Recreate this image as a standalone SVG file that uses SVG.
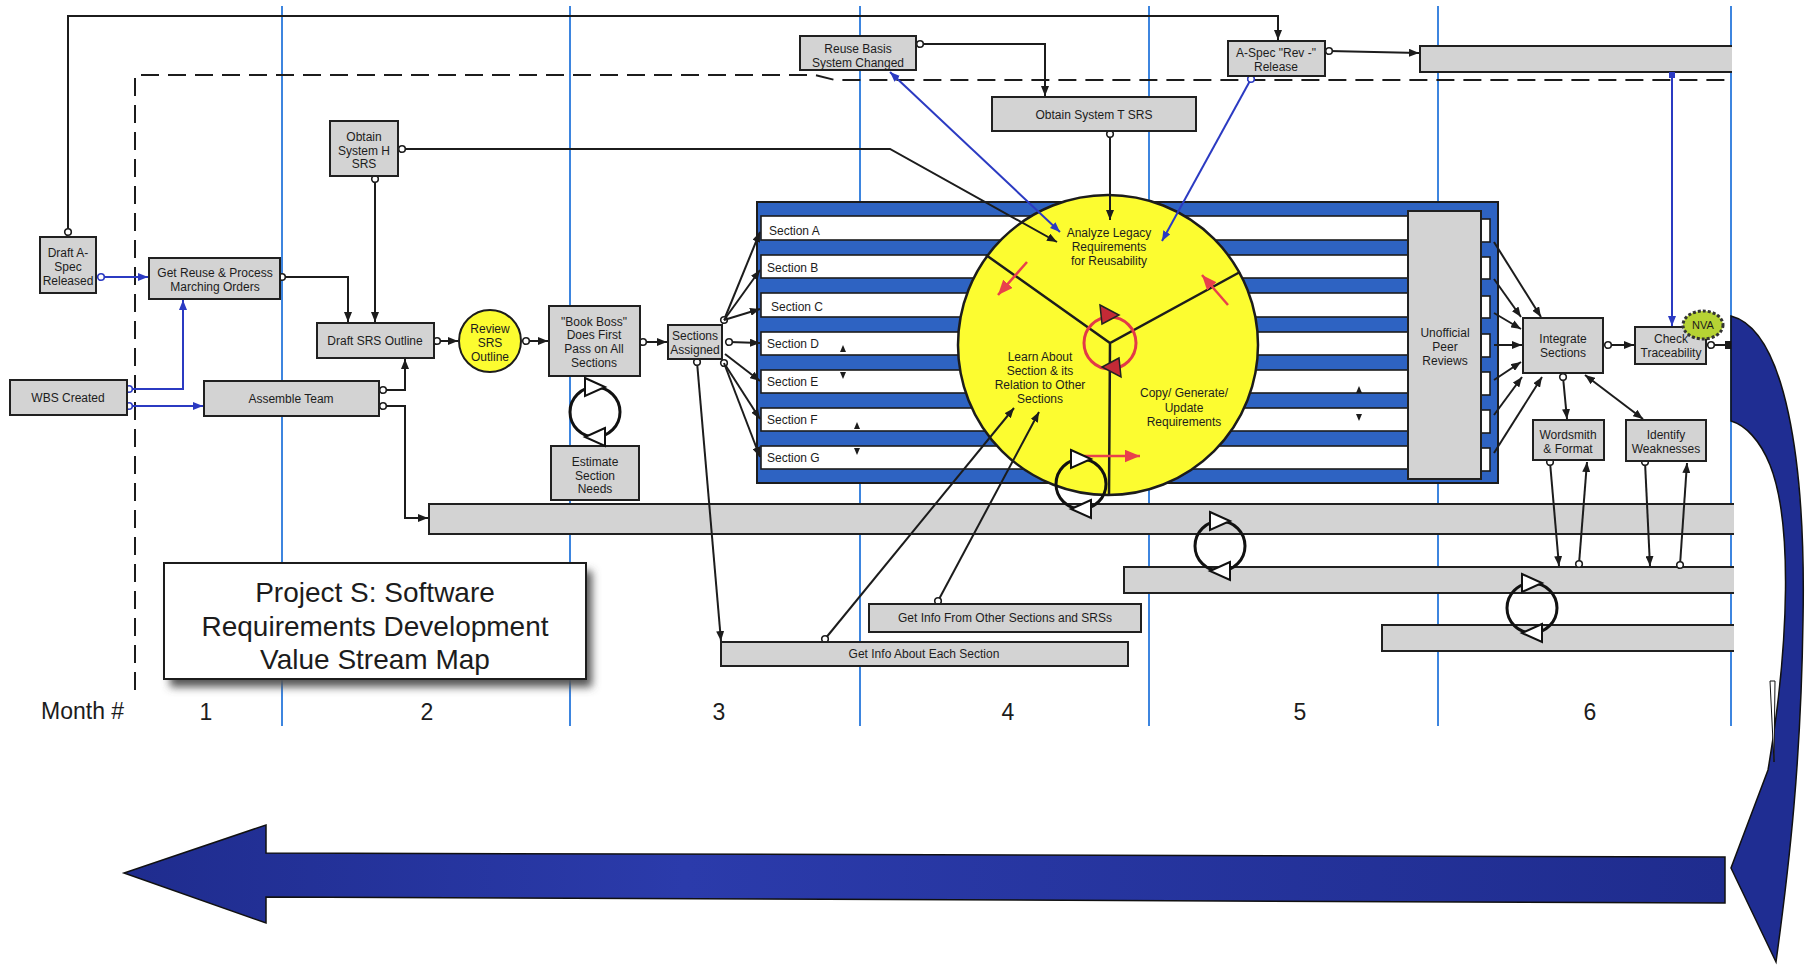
<svg xmlns="http://www.w3.org/2000/svg" width="1813" height="967" viewBox="0 0 1813 967">
<defs>
<style>
.mo{stroke:#3d85df;stroke-width:2;fill:none}
.bx{fill:#d3d3d3;stroke:#202020;stroke-width:2}
.t{font-family:"Liberation Sans",Arial,Helvetica,sans-serif;font-size:12px;fill:#1c1c1c;text-anchor:middle}
.sl{font-family:"Liberation Sans",Arial,Helvetica,sans-serif;font-size:12px;fill:#1c1c1c}
.big{font-family:"Liberation Sans",Arial,Helvetica,sans-serif;font-size:23px;fill:#1c1c1c;text-anchor:middle}
.ttl{font-family:"Liberation Sans",Arial,Helvetica,sans-serif;font-size:28px;fill:#1c1c1c;text-anchor:middle}
.ln{fill:none;stroke:#1c1c1c;stroke-width:2}
.bl{fill:none;stroke:#2b3ac2;stroke-width:2}
.rd{fill:none;stroke:#e8404c;stroke-width:2.5}
.wb{fill:#fff;stroke:#1c1c1c;stroke-width:1.6}
.wt{fill:#fff;stroke:#111;stroke-width:2}
.rt{fill:#c42a36;stroke:#222;stroke-width:1.5}
.tri{fill:#1c1c1c}
.bar{fill:#d3d3d3}
.edge{fill:none;stroke:#202020;stroke-width:2}
</style>
<marker id="ah" viewBox="0 0 10 8" refX="10" refY="4" markerWidth="10" markerHeight="8" markerUnits="userSpaceOnUse" orient="auto-start-reverse"><path d="M0,0L10,4L0,8z" fill="#1c1c1c"/></marker>
<marker id="ahb" viewBox="0 0 10 8" refX="10" refY="4" markerWidth="10" markerHeight="8" markerUnits="userSpaceOnUse" orient="auto-start-reverse"><path d="M0,0L10,4L0,8z" fill="#2b3ac2"/></marker>
<marker id="ahr" viewBox="0 0 12 10" refX="12" refY="5" markerWidth="15" markerHeight="13" markerUnits="userSpaceOnUse" orient="auto"><path d="M0,0L12,5L0,10z" fill="#e8404c"/></marker>
<marker id="oc" viewBox="0 0 10 10" refX="5" refY="5" markerWidth="10" markerHeight="10" markerUnits="userSpaceOnUse"><circle cx="5" cy="5" r="3.3" fill="#fff" stroke="#1c1c1c" stroke-width="1.6"/></marker>
<marker id="ocb" viewBox="0 0 10 10" refX="5" refY="5" markerWidth="10" markerHeight="10" markerUnits="userSpaceOnUse"><circle cx="5" cy="5" r="3.3" fill="#fff" stroke="#2b3ac2" stroke-width="1.6"/></marker>
<linearGradient id="navy" x1="0" y1="0" x2="1" y2="0">
<stop offset="0" stop-color="#1f2c8e"/><stop offset="0.35" stop-color="#2b3bab"/><stop offset="1" stop-color="#1f2c8e"/>
</linearGradient>
<filter id="shadow" x="-10%" y="-10%" width="130%" height="140%"><feGaussianBlur stdDeviation="4"/></filter>
<!-- rework loop: circle with two open arrowheads, clockwise -->
<g id="cyc"><circle r="25" fill="none" stroke="#111" stroke-width="3"/><path class="wt" d="M-10,-34L10,-25L-10,-16Z"/><path class="wt" d="M10,16L-10,25L10,34Z"/></g>
</defs>

<rect width="1813" height="967" fill="#fff"/>

<!-- month separators -->
<g id="months">
<path class="mo" d="M282,6V726M570,6V726M860,6V726M1149,6V726M1438,6V726M1731,6V726"/>
<text x="41" y="719" class="big" style="text-anchor:start">Month #</text>
<text x="206" y="720" class="big">1</text>
<text x="427" y="720" class="big">2</text>
<text x="719" y="720" class="big">3</text>
<text x="1008" y="720" class="big">4</text>
<text x="1300" y="720" class="big">5</text>
<text x="1590" y="720" class="big">6</text>
</g>

<!-- project boundary -->
<path d="M135,690V75H815L835,80H1733" fill="none" stroke="#1c1c1c" stroke-width="2" stroke-dasharray="18 9"/>

<!-- long timeline bars (open to the right) -->
<g id="bars">
<rect class="bar" x="1420" y="46" width="312" height="26"/><path class="edge" d="M1732,46H1420V72H1732"/>
<rect class="bar" x="429" y="504" width="1305" height="30"/><path class="edge" d="M1734,504H429V534H1734"/>
<rect class="bar" x="1124" y="567" width="610" height="26"/><path class="edge" d="M1734,567H1124V593H1734"/>
<rect class="bar" x="1382" y="625" width="352" height="26"/><path class="edge" d="M1734,625H1382V651H1734"/>
</g>

<!-- section work frame -->
<g id="n-sections">
<rect x="757" y="202" width="741" height="281" fill="#2e63c2" stroke="#1c1c1c" stroke-width="2"/>
<rect class="wb" x="761" y="216" width="650" height="24"/>
<rect class="wb" x="761" y="255" width="650" height="23"/>
<rect class="wb" x="761" y="293" width="650" height="24"/>
<rect class="wb" x="761" y="332" width="650" height="23"/>
<rect class="wb" x="761" y="370" width="650" height="23"/>
<rect class="wb" x="761" y="408" width="650" height="23"/>
<rect class="wb" x="761" y="446" width="650" height="23"/>
<rect class="wb" x="1481" y="219" width="9" height="23"/>
<rect class="wb" x="1481" y="257" width="9" height="22"/>
<rect class="wb" x="1481" y="296" width="9" height="22"/>
<rect class="wb" x="1481" y="334" width="9" height="23"/>
<rect class="wb" x="1481" y="372" width="9" height="23"/>
<rect class="wb" x="1481" y="410" width="9" height="23"/>
<rect class="wb" x="1481" y="448" width="9" height="23"/>
<text class="sl" x="769" y="235">Section A</text>
<text class="sl" x="767" y="272">Section B</text>
<text class="sl" x="771" y="311">Section C</text>
<text class="sl" x="767" y="348">Section D</text>
<text class="sl" x="767" y="386">Section E</text>
<text class="sl" x="767" y="424">Section F</text>
<text class="sl" x="767" y="462">Section G</text>
<path class="tri" d="M840,352L843,345L846,352Z"/>
<path class="tri" d="M840,372L846,372L843,379Z"/>
<path class="tri" d="M854,429L857,422L860,429Z"/>
<path class="tri" d="M854,448L860,448L857,455Z"/>
<path class="tri" d="M1356,393L1359,386L1362,393Z"/>
<path class="tri" d="M1356,414L1362,414L1359,421Z"/>
</g>

<g id="n-peer">
<rect class="bx" x="1408" y="211" width="73" height="268"/>
<text class="t" x="1445" y="337">Unofficial</text>
<text class="t" x="1445" y="351">Peer</text>
<text class="t" x="1445" y="365">Reviews</text>
</g>

<!-- requirements cycle -->
<g id="n-cycle">
<circle cx="1108" cy="345" r="150" fill="#fcfc30" stroke="#1c1c1c" stroke-width="2.5"/>
<path d="M986,255L1110,343L1240,272M1110,343L1109,495" fill="none" stroke="#1c1c1c" stroke-width="2.5"/>
<g transform="translate(1110,343)"><circle r="26" fill="none" stroke="#e23a48" stroke-width="3"/><path class="rt" d="M-10,-38L9,-28L-8,-19Z"/><path class="rt" d="M9,15L-8,24L11,34Z"/></g>
<path class="rd" d="M1027,262L998,295" marker-end="url(#ahr)"/>
<path class="rd" d="M1228,305L1202,275" marker-end="url(#ahr)"/>
<path class="rd" d="M1084,456L1140,456" marker-end="url(#ahr)"/>
<text class="t" x="1109" y="237">Analyze Legacy</text>
<text class="t" x="1109" y="251">Requirements</text>
<text class="t" x="1109" y="265">for Reusability</text>
<text class="t" x="1040" y="361">Learn About</text>
<text class="t" x="1040" y="375">Section &amp; its</text>
<text class="t" x="1040" y="389">Relation to Other</text>
<text class="t" x="1040" y="403">Sections</text>
<text class="t" x="1184" y="397">Copy/ Generate/</text>
<text class="t" x="1184" y="412">Update</text>
<text class="t" x="1184" y="426">Requirements</text>
</g>

<!-- connectors -->
<g id="connectors">
<path class="ln" d="M68,232V16H1278V40" marker-start="url(#oc)" marker-end="url(#ah)"/>
<path class="bl" d="M101,277H148" marker-start="url(#ocb)" marker-end="url(#ahb)"/>
<path class="bl" d="M129,389H183V300" marker-start="url(#ocb)" marker-end="url(#ahb)"/>
<path class="bl" d="M129,406H203" marker-start="url(#ocb)" marker-end="url(#ahb)"/>
<path class="ln" d="M282,277H348V322" marker-start="url(#oc)" marker-end="url(#ah)"/>
<path class="ln" d="M375,179V322" marker-start="url(#oc)" marker-end="url(#ah)"/>
<path class="ln" d="M402,149H890L1057,242" marker-start="url(#oc)" marker-end="url(#ah)"/>
<path class="ln" d="M383,390H405V359" marker-start="url(#oc)" marker-end="url(#ah)"/>
<path class="ln" d="M383,406H405V518H428" marker-start="url(#oc)" marker-end="url(#ah)"/>
<path class="ln" d="M437,341H458" marker-start="url(#oc)" marker-end="url(#ah)"/>
<path class="ln" d="M526,341H548" marker-start="url(#oc)" marker-end="url(#ah)"/>
<path class="ln" d="M643,342H667" marker-start="url(#oc)" marker-end="url(#ah)"/>
<path class="ln" d="M724,320L760,232" marker-start="url(#oc)" marker-end="url(#ah)"/>
<path class="ln" d="M724,320L760,270" marker-end="url(#ah)"/>
<path class="ln" d="M724,320L760,309" marker-end="url(#ah)"/>
<path class="ln" d="M729,342L760,343" marker-start="url(#oc)" marker-end="url(#ah)"/>
<path class="ln" d="M725,354L760,381" marker-end="url(#ah)"/>
<path class="ln" d="M724,363L760,419" marker-start="url(#oc)" marker-end="url(#ah)"/>
<path class="ln" d="M724,363L760,457" marker-end="url(#ah)"/>
<path class="ln" d="M697,362L721,641" marker-start="url(#oc)" marker-end="url(#ah)"/>
<path class="ln" d="M825,639L1014,408" marker-start="url(#oc)" marker-end="url(#ah)"/>
<path class="ln" d="M938,601L1039,412" marker-start="url(#oc)" marker-end="url(#ah)"/>
<path class="ln" d="M920,44H1045V96" marker-start="url(#oc)" marker-end="url(#ah)"/>
<path class="bl" d="M890,72L1060,232" marker-start="url(#ahb)" marker-end="url(#ahb)"/>
<path class="ln" d="M1110,134V220" marker-start="url(#oc)" marker-end="url(#ah)"/>
<path class="bl" d="M1251,79L1162,241" marker-start="url(#ocb)" marker-end="url(#ahb)"/>
<path class="ln" d="M1329,51L1419,53" marker-start="url(#oc)" marker-end="url(#ah)"/>
<path class="bl" d="M1672,74V326" marker-end="url(#ahb)"/>
<rect x="1669" y="72" width="6" height="6" fill="#2b3ac2"/>
<path class="ln" d="M1494,242L1541,317" marker-end="url(#ah)"/>
<path class="ln" d="M1494,279L1521,317" marker-end="url(#ah)"/>
<path class="ln" d="M1494,313L1521,329" marker-end="url(#ah)"/>
<path class="ln" d="M1494,345L1522,345" marker-end="url(#ah)"/>
<path class="ln" d="M1494,380L1521,362" marker-end="url(#ah)"/>
<path class="ln" d="M1494,415L1522,377" marker-end="url(#ah)"/>
<path class="ln" d="M1494,453L1542,377" marker-end="url(#ah)"/>
<path class="ln" d="M1608,345H1634" marker-start="url(#oc)" marker-end="url(#ah)"/>
<path class="ln" d="M1711,345H1727" marker-start="url(#oc)"/>
<rect x="1725" y="341" width="7" height="8" fill="#1c1c1c"/>
<path class="ln" d="M1563,377L1567,419" marker-start="url(#oc)" marker-end="url(#ah)"/>
<path class="ln" d="M1585,375L1643,419" marker-start="url(#ah)" marker-end="url(#ah)"/>
<path class="ln" d="M1550,462L1559,566" marker-start="url(#oc)" marker-end="url(#ah)"/>
<path class="ln" d="M1579,564L1587,462" marker-start="url(#oc)" marker-end="url(#ah)"/>
<path class="ln" d="M1645,462L1650,566" marker-start="url(#oc)" marker-end="url(#ah)"/>
<path class="ln" d="M1680,565L1687,463" marker-start="url(#oc)" marker-end="url(#ah)"/>
</g>

<!-- process boxes -->
<g id="n-draft-aspec"><rect class="bx" x="40" y="237" width="56" height="56"/>
<text class="t" x="68" y="257">Draft A-</text><text class="t" x="68" y="271">Spec</text><text class="t" x="68" y="285">Released</text></g>
<g id="n-get-reuse"><rect class="bx" x="149" y="258" width="131" height="41"/>
<text class="t" x="215" y="277">Get Reuse &amp; Process</text><text class="t" x="215" y="291">Marching Orders</text></g>
<g id="n-wbs"><rect class="bx" x="10" y="380" width="117" height="35"/>
<text class="t" x="68" y="402">WBS Created</text></g>
<g id="n-assemble"><rect class="bx" x="204" y="381" width="175" height="35"/>
<text class="t" x="291" y="403">Assemble Team</text></g>
<g id="n-obtain-h"><rect class="bx" x="330" y="121" width="68" height="55"/>
<text class="t" x="364" y="141">Obtain</text><text class="t" x="364" y="155">System H</text><text class="t" x="364" y="168">SRS</text></g>
<g id="n-draft-srs"><rect class="bx" x="317" y="323" width="117" height="35"/>
<text class="t" x="375" y="345">Draft SRS Outline</text></g>
<g id="n-review"><circle cx="490" cy="341" r="31" fill="#fcfc30" stroke="#1c1c1c" stroke-width="2"/>
<text class="t" x="490" y="333">Review</text><text class="t" x="490" y="347">SRS</text><text class="t" x="490" y="361">Outline</text></g>
<g id="n-book-boss"><rect class="bx" x="549" y="306" width="91" height="70"/>
<text class="t" x="594" y="326">"Book Boss"</text><text class="t" x="594" y="339">Does First</text><text class="t" x="594" y="353">Pass on All</text><text class="t" x="594" y="367">Sections</text></g>
<g id="n-estimate"><rect class="bx" x="551" y="446" width="88" height="54"/>
<text class="t" x="595" y="466">Estimate</text><text class="t" x="595" y="480">Section</text><text class="t" x="595" y="493">Needs</text></g>
<g id="n-assigned"><rect class="bx" x="668" y="325" width="54" height="34"/>
<text class="t" x="695" y="340">Sections</text><text class="t" x="695" y="354">Assigned</text></g>
<g id="n-reuse-basis"><rect class="bx" x="800" y="36" width="116" height="34"/>
<text class="t" x="858" y="53">Reuse Basis</text><text class="t" x="858" y="67">System Changed</text></g>
<g id="n-obtain-t"><rect class="bx" x="992" y="97" width="204" height="34"/>
<text class="t" x="1094" y="119">Obtain System T SRS</text></g>
<g id="n-aspec-rev"><rect class="bx" x="1228" y="41" width="97" height="35"/>
<text class="t" x="1276" y="57">A-Spec "Rev -"</text><text class="t" x="1276" y="71">Release</text></g>
<g id="n-integrate"><rect class="bx" x="1523" y="318" width="80" height="55"/>
<text class="t" x="1563" y="343">Integrate</text><text class="t" x="1563" y="357">Sections</text></g>
<g id="n-check"><rect class="bx" x="1635" y="327" width="71" height="37"/>
<text class="t" x="1671" y="343">Check</text><text class="t" x="1671" y="357">Traceability</text>
<ellipse cx="1703" cy="325" rx="20" ry="14" fill="#b6d334" stroke="#333" stroke-width="3" stroke-dasharray="3 2"/>
<text class="t" x="1703" y="329" style="font-size:11px">NVA</text></g>
<g id="n-wordsmith"><rect class="bx" x="1533" y="420" width="71" height="40"/>
<text class="t" x="1568" y="439">Wordsmith</text><text class="t" x="1568" y="453">&amp; Format</text></g>
<g id="n-identify"><rect class="bx" x="1626" y="420" width="80" height="41"/>
<text class="t" x="1666" y="439">Identify</text><text class="t" x="1666" y="453">Weaknesses</text></g>
<g id="n-info-other"><rect class="bx" x="869" y="604" width="272" height="28"/>
<text class="t" x="1005" y="622">Get Info From Other Sections and SRSs</text></g>
<g id="n-info-each"><rect class="bx" x="721" y="642" width="407" height="24"/>
<text class="t" x="924" y="658">Get Info About Each Section</text></g>

<!-- rework loops -->
<g id="loops">
<use href="#cyc" x="595" y="412"/>
<use href="#cyc" x="1081" y="484"/>
<use href="#cyc" x="1220" y="546"/>
<use href="#cyc" x="1532" y="608"/>
</g>

<!-- return arrows -->
<g id="n-return">
<path d="M1731,316C1785,330 1806,460 1803,620C1801,760 1790,860 1776,962L1731,868L1768,770C1790,640 1792,520 1770,465C1760,440 1745,425 1731,421Z" fill="#1f2d92" stroke="#111" stroke-width="1.5"/>
<path d="M1770,681L1775,681L1774,762Z" fill="#fff" stroke="#111" stroke-width="1"/>
<path d="M1725,857L266,853L266,825L124,873L266,923L266,897L1725,903Z" fill="url(#navy)" stroke="#111" stroke-width="1.5"/>
</g>

<!-- title -->
<g id="n-title">
<rect x="170" y="571" width="422" height="116" fill="#555" filter="url(#shadow)"/>
<rect x="164" y="563" width="422" height="116" fill="#fff" stroke="#1c1c1c" stroke-width="2"/>
<text class="ttl" x="375" y="602">Project S: Software</text>
<text class="ttl" x="375" y="636">Requirements Development</text>
<text class="ttl" x="375" y="669">Value Stream Map</text>
</g>
</svg>
